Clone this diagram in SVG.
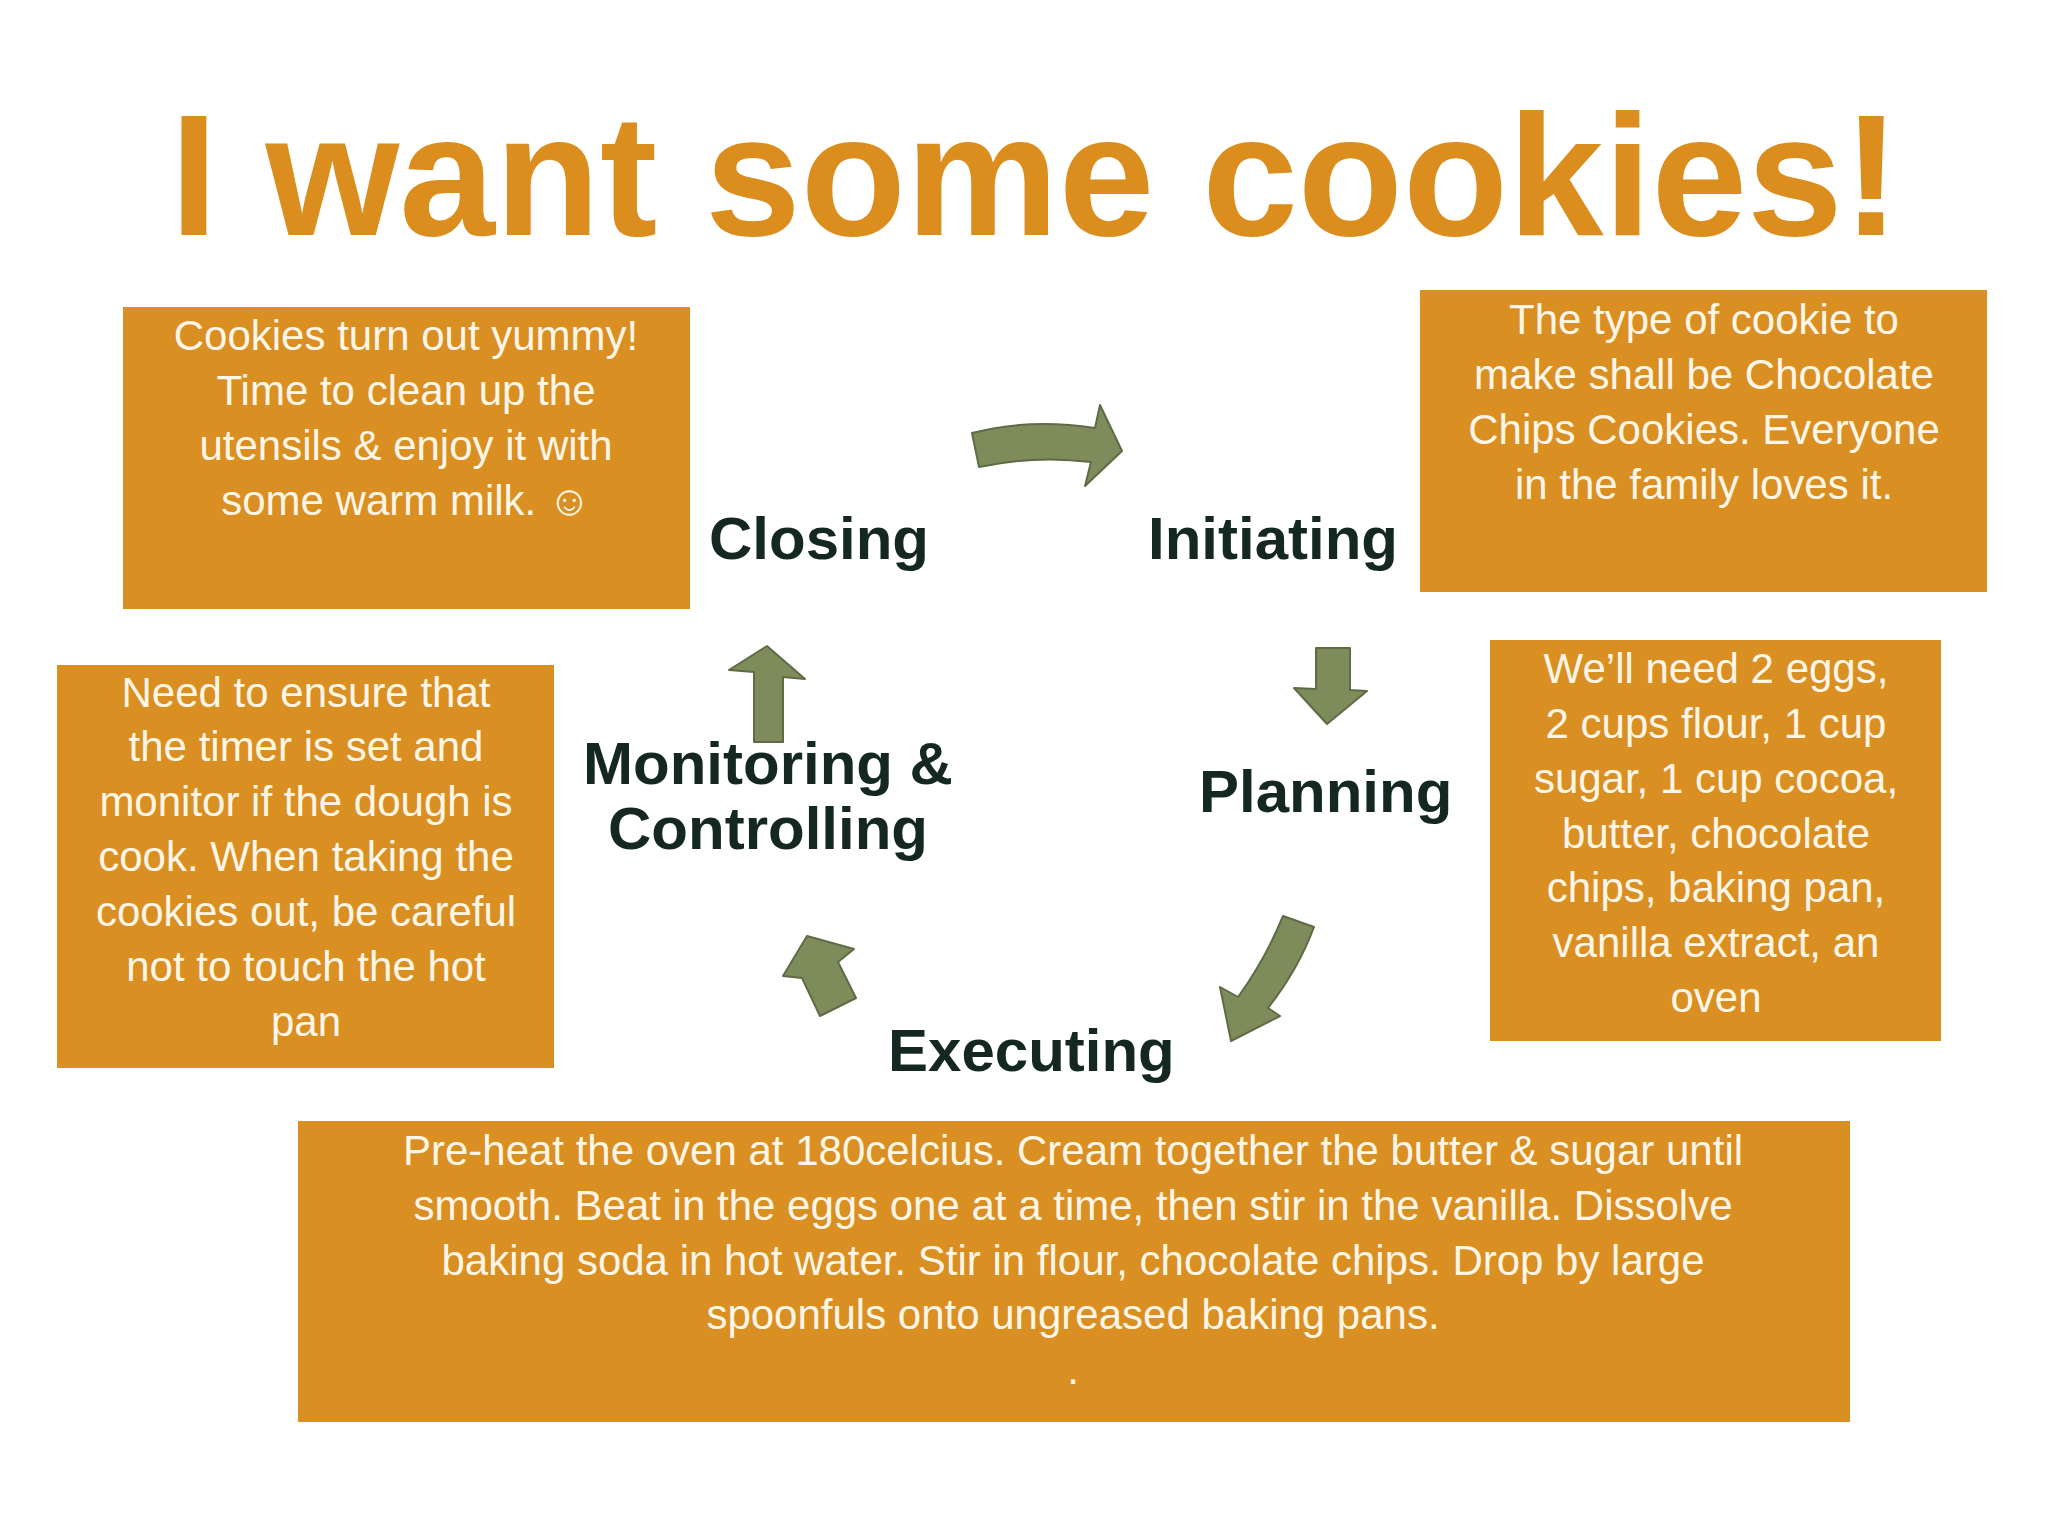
<svg xmlns="http://www.w3.org/2000/svg" width="2048" height="1536" viewBox="0 0 2048 1536">
<style>
.box{fill:#D98F22}
.bt{font-family:"Liberation Sans","DejaVu Sans",Arial,sans-serif;font-size:42px;fill:#FFF6E8;text-anchor:middle}
.lb{font-family:"Liberation Sans",Arial,sans-serif;font-size:60px;font-weight:bold;fill:#142820}
.ar{fill:#7E8C5C;stroke:#5F6B45;stroke-width:2;stroke-linejoin:round}
</style>
<rect width="2048" height="1536" fill="#fff"/>
<text x="1035" y="235" text-anchor="middle" font-family="Liberation Sans,Arial,sans-serif" font-weight="bold" font-size="172" fill="#DB8D1E">I want some cookies!</text>
<g id="closing-box"><rect class="box" x="123" y="307" width="567" height="302"/>
<text class="bt" x="406" y="350">Cookies turn out yummy!</text>
<text class="bt" x="406" y="405">Time to clean up the</text>
<text class="bt" x="406" y="460">utensils &amp; enjoy it with</text>
<text class="bt" x="406" y="515">some  warm milk. ☺</text></g>
<g id="initiating-box"><rect class="box" x="1420" y="290" width="567" height="302"/>
<text class="bt" x="1704" y="334">The type of cookie to</text>
<text class="bt" x="1704" y="389">make shall be Chocolate</text>
<text class="bt" x="1704" y="444">Chips Cookies. Everyone</text>
<text class="bt" x="1704" y="499">in the family loves it.</text></g>
<g id="monitoring-box"><rect class="box" x="57" y="665" width="497" height="403"/>
<text class="bt" x="306" y="707">Need to ensure that</text>
<text class="bt" x="306" y="761">the timer is set and</text>
<text class="bt" x="306" y="816">monitor if the dough is</text>
<text class="bt" x="306" y="871">cook. When taking the</text>
<text class="bt" x="306" y="926">cookies out, be careful</text>
<text class="bt" x="306" y="981">not to touch the hot</text>
<text class="bt" x="306" y="1036">pan</text></g>
<g id="planning-box"><rect class="box" x="1490" y="640" width="451" height="401"/>
<text class="bt" x="1716" y="683">We’ll need 2 eggs,</text>
<text class="bt" x="1716" y="738">2 cups flour, 1 cup</text>
<text class="bt" x="1716" y="793">sugar, 1 cup cocoa,</text>
<text class="bt" x="1716" y="848">butter, chocolate</text>
<text class="bt" x="1716" y="902">chips, baking pan,</text>
<text class="bt" x="1716" y="957">vanilla extract, an</text>
<text class="bt" x="1716" y="1012">oven</text></g>
<g id="executing-box"><rect class="box" x="298" y="1121" width="1552" height="301"/>
<text class="bt" x="1073" y="1165">Pre-heat the oven at 180celcius. Cream together the butter &amp; sugar until</text>
<text class="bt" x="1073" y="1220">smooth. Beat in the eggs one at a time, then stir in the vanilla. Dissolve</text>
<text class="bt" x="1073" y="1275">baking soda in hot water. Stir in flour, chocolate chips. Drop by large</text>
<text class="bt" x="1073" y="1329">spoonfuls onto ungreased baking pans.</text>
<text class="bt" x="1073" y="1384">.</text></g>
<g id="labels">
<text class="lb" x="709" y="559">Closing</text>
<text class="lb" x="1148" y="559">Initiating</text>
<text class="lb" x="768" y="784" text-anchor="middle">Monitoring &amp;</text>
<text class="lb" x="768" y="849" text-anchor="middle">Controlling</text>
<text class="lb" x="1199" y="812">Planning</text>
<text class="lb" x="888" y="1071">Executing</text>
</g>
<g id="connectors">
<path class="ar" d="M972,433 Q1030,418 1095,428 L1100,405 L1122,451 L1085,486 L1091,462 Q1035,455 979,467 Z"/>
<path class="ar" d="M1316,648 L1350,648 L1350,690 L1367,691 L1327,724 L1294,688 L1316,689 Z"/>
<path class="ar" d="M1283,916 L1314,927 Q1298,970 1268,1008 L1280,1016 L1231,1041 L1220,987 L1238,997 Q1265,960 1283,916 Z"/>
<path class="ar" d="M820,1016 L856,998 L838,962 L854,949 L807,936 L783,976 L802,978 Z"/>
<path class="ar" d="M754,742 L783,742 L783,677 L805,679 L767,646 L729,670 L754,672 Z"/>
</g>
</svg>
